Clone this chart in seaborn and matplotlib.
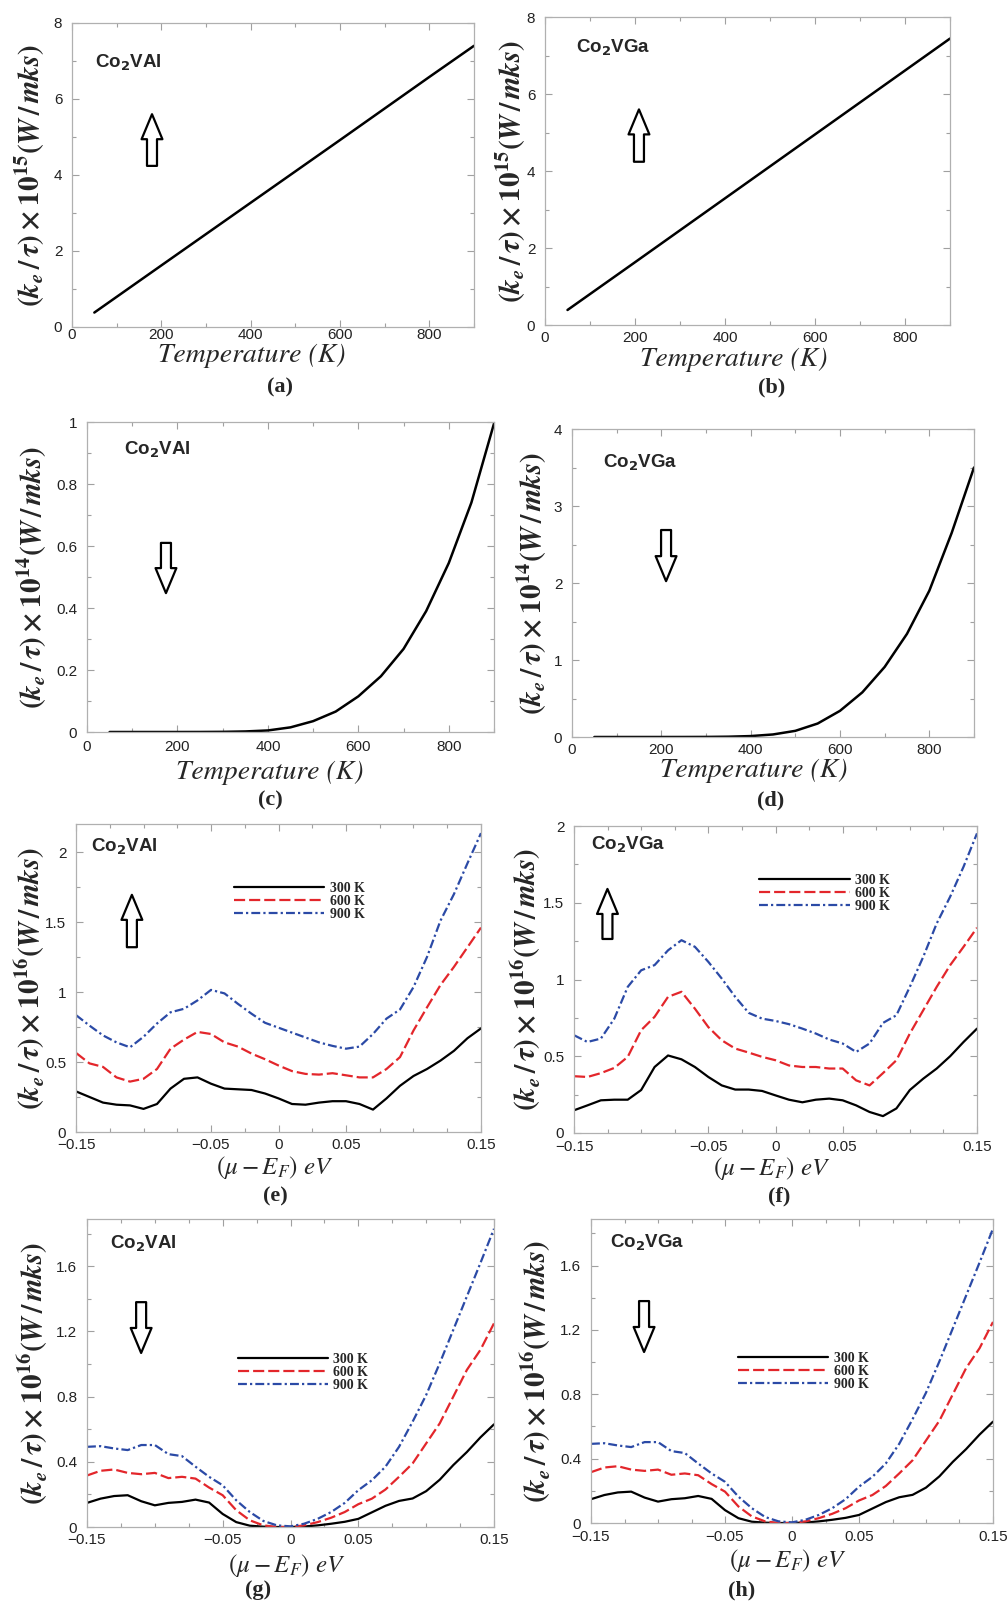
import numpy as np
import pandas as pd
import matplotlib
matplotlib.use('Agg')
import matplotlib.pyplot as plt
from matplotlib.ticker import FuncFormatter
import seaborn as sns

sns.set_theme(style='ticks')
plt.rcParams['font.family'] = ['Liberation Sans', 'DejaVu Sans']
plt.rcParams.update({
    'mathtext.fontset': 'custom',
    'mathtext.rm': 'STIXGeneral:bold',
    'mathtext.it': 'STIXGeneral:italic:bold',
    'mathtext.bf': 'STIXGeneral:bold',
})

W, H = 1008, 1601

# ---- data: temperature panels (a)-(d) ----
TEMP_LIN = [50, 200, 400, 600, 800, 900]
KE_A = [0.38, 1.62, 3.27, 4.92, 6.58, 7.40]
KE_B = [0.39, 1.63, 3.29, 4.95, 6.61, 7.44]

TEMP = [50, 100, 150, 200, 250, 300, 350, 400, 450, 500, 550, 600, 650, 700, 750, 800, 850, 900]
KE_C = [0, 0, 0, 0, 0.0001, 0.0005, 0.0018, 0.005, 0.015, 0.035, 0.066, 0.115,
        0.18, 0.268, 0.39, 0.545, 0.74, 0.995]
KE_D = [0, 0, 0, 0, 0.0002, 0.001, 0.004, 0.012, 0.033, 0.08, 0.175, 0.34,
        0.58, 0.91, 1.34, 1.9, 2.65, 3.5]

# ---- data: chemical potential panels (e)-(h) ----
MU = [-0.15, -0.14, -0.13, -0.12, -0.11, -0.10, -0.09, -0.08, -0.07, -0.06, -0.05,
      -0.04, -0.03, -0.02, -0.01, 0.0, 0.01, 0.02, 0.03, 0.04, 0.05,
      0.06, 0.07, 0.08, 0.09, 0.10, 0.11, 0.12, 0.13, 0.14, 0.15]
TEMP_LABELS = ['300 K', '600 K', '900 K']

E_300 = [0.29, 0.25, 0.21, 0.195, 0.19, 0.165, 0.20, 0.31, 0.38, 0.39, 0.345,
         0.31, 0.305, 0.30, 0.275, 0.24, 0.20, 0.195, 0.21, 0.22, 0.22,
         0.20, 0.16, 0.24, 0.33, 0.40, 0.45, 0.51, 0.58, 0.67, 0.74]
E_600 = [0.565, 0.49, 0.465, 0.39, 0.36, 0.38, 0.45, 0.595, 0.66, 0.715, 0.70,
         0.64, 0.61, 0.56, 0.52, 0.475, 0.435, 0.415, 0.41, 0.42, 0.405,
         0.39, 0.39, 0.45, 0.535, 0.725, 0.89, 1.05, 1.18, 1.32, 1.46]
E_900 = [0.835, 0.76, 0.69, 0.64, 0.605, 0.68, 0.775, 0.855, 0.88, 0.94, 1.015,
         0.99, 0.915, 0.845, 0.78, 0.745, 0.71, 0.675, 0.64, 0.615, 0.595,
         0.61, 0.70, 0.81, 0.875, 1.035, 1.25, 1.51, 1.70, 1.92, 2.135]

F_300 = [0.148, 0.18, 0.213, 0.217, 0.217, 0.28, 0.43, 0.505, 0.48, 0.43, 0.365,
         0.31, 0.283, 0.283, 0.274, 0.245, 0.217, 0.20, 0.217, 0.224, 0.213,
         0.18, 0.137, 0.11, 0.16, 0.28, 0.354, 0.42, 0.50, 0.593, 0.68]
F_600 = [0.37, 0.365, 0.39, 0.424, 0.496, 0.67, 0.757, 0.887, 0.92, 0.81, 0.69,
         0.604, 0.55, 0.524, 0.496, 0.474, 0.44, 0.43, 0.43, 0.42, 0.42,
         0.343, 0.31, 0.39, 0.474, 0.648, 0.80, 0.952, 1.093, 1.213, 1.337]
F_900 = [0.637, 0.593, 0.615, 0.745, 0.952, 1.06, 1.094, 1.19, 1.256, 1.213, 1.115,
         1.006, 0.887, 0.783, 0.745, 0.73, 0.709, 0.68, 0.648, 0.609, 0.583,
         0.528, 0.583, 0.717, 0.767, 0.952, 1.148, 1.365, 1.539, 1.735, 1.952]

# (g) and (h) show the same curves
G_300 = [0.148, 0.174, 0.19, 0.195, 0.158, 0.133, 0.148, 0.154, 0.168, 0.15, 0.08,
         0.03, 0.008, 0.002, 0.0, 0.0, 0.003, 0.01, 0.02, 0.032, 0.05,
         0.09, 0.13, 0.16, 0.175, 0.22, 0.29, 0.38, 0.46, 0.55, 0.63]
G_600 = [0.316, 0.345, 0.353, 0.332, 0.324, 0.332, 0.30, 0.308, 0.297, 0.242, 0.195,
         0.103, 0.041, 0.01, 0.0, 0.0, 0.01, 0.03, 0.057, 0.092, 0.14,
         0.174, 0.23, 0.308, 0.39, 0.513, 0.636, 0.80, 0.964, 1.087, 1.25]
G_900 = [0.492, 0.496, 0.482, 0.472, 0.503, 0.503, 0.447, 0.435, 0.37, 0.308, 0.256,
         0.164, 0.092, 0.037, 0.01, 0.004, 0.02, 0.05, 0.092, 0.148, 0.226,
         0.287, 0.37, 0.492, 0.646, 0.81, 1.005, 1.21, 1.415, 1.62, 1.83]

PALETTE = {'300 K': 'black', '600 K': '#e3262b', '900 K': '#2b4aa6'}
DASHES = {'300 K': '', '600 K': (5, 1.8), '900 K': (4, 1.4, 1.0, 1.4)}


def tick_fmt(v, pos):
    return f'{round(v, 4):g}'.replace('-', '\u2212')


def make_axes(fig, left, top, right, bottom):
    return fig.add_axes([left / W, 1 - bottom / H, (right - left) / W, (bottom - top) / H])


def style_axes(ax, xmaj, xmin, ymaj, ymin, xpad):
    ax.set_xticks(xmaj)
    ax.set_xticks(xmin, minor=True)
    ax.set_yticks(ymaj)
    ax.set_yticks(ymin, minor=True)
    ax.xaxis.set_major_formatter(FuncFormatter(tick_fmt))
    ax.yaxis.set_major_formatter(FuncFormatter(tick_fmt))
    ax.tick_params(which='both', direction='in', top=True, right=True,
                   color='#a0a0a0', width=0.8, labelsize=11, labelcolor='#222222')
    ax.tick_params(axis='x', pad=xpad)
    ax.tick_params(axis='y', pad=7)
    ax.tick_params(which='major', length=5)
    ax.tick_params(which='minor', length=3)
    for sp in ax.spines.values():
        sp.set_color('#b0b0b0')
        sp.set_linewidth(0.9)


def block_arrow(ax, x, y_tail, y_tip):
    ax.annotate('', xy=(x, y_tip), xytext=(x, y_tail),
                xycoords='axes fraction', textcoords='axes fraction',
                arrowprops=dict(arrowstyle='simple,head_length=1.8,head_width=1.5,tail_width=0.72',
                                mutation_scale=10, fc='white', ec='black', lw=1.6,
                                shrinkA=0, shrinkB=0))


def compound(ax, x, y, text):
    ax.text(x, y, text, transform=ax.transAxes, fontsize=13.5, fontweight='bold',
            va='center', ha='left', math_fontfamily='dejavusans')


def ylabel(ax, power, xpos):
    ax.set_ylabel(r'$(k_e\,/\,\tau)\times10^{%d}(W\,/\,mks)$' % power, fontsize=21, va='center')
    ax.yaxis.set_label_coords(xpos, 0.5)


fig = plt.figure(figsize=(W / 100, H / 100), dpi=100)

# ---------------- temperature panels ----------------
t_panels = [
    # box, values, ylim, ymaj, ymin, power, compound, arrow(x, tail, tip), ylabel x, xlabel (x, y), x tick pad
    ((72, 23, 474, 327), KE_A, 8, np.arange(0, 8.1, 2), np.arange(0, 8.1, 1), 15,
     (0.057, 0.87, r'Co$_\mathbf{2}$VAl'), (0.199, 0.53, 0.70), -0.104, (0.448, -0.055), 0.5),
    ((545, 17, 950, 325), KE_B, 8, np.arange(0, 8.1, 2), np.arange(0, 8.1, 1), 15,
     (0.077, 0.90, r'Co$_\mathbf{2}$VGa'), (0.232, 0.53, 0.70), -0.084, (0.467, -0.071), 4.5),
    ((87, 422, 494, 732), KE_C, 1, np.arange(0, 1.01, 0.2), np.arange(0, 1.01, 0.1), 14,
     (0.091, 0.91, r'Co$_\mathbf{2}$VAl'), (0.194, 0.61, 0.448), -0.135, (0.45, -0.09), 5.5),
    ((572, 429, 974, 737), KE_D, 4, np.arange(0, 4.1, 1), np.arange(0, 4.1, 0.5), 14,
     (0.077, 0.89, r'Co$_\mathbf{2}$VGa'), (0.234, 0.672, 0.506), -0.10, (0.453, -0.068), 4.5),
]
TEMP_X = [TEMP_LIN, TEMP_LIN, TEMP, TEMP]

for (box, vals, ytop, ymaj, ymin, power, comp, arr, ylx, xl, xpad), tx in zip(t_panels, TEMP_X):
    ax = make_axes(fig, *box)
    sns.lineplot(x=tx, y=vals, color='black', lw=1.8, ax=ax)
    ax.set_xlim(0, 900)
    ax.set_ylim(0, ytop)
    style_axes(ax, [0, 200, 400, 600, 800], np.arange(0, 901, 100), ymaj, ymin, xpad)
    ylabel(ax, power, ylx)
    ax.set_xlabel('Temperature (K)', fontsize=20, fontfamily='STIXGeneral', fontstyle='italic')
    ax.xaxis.set_label_coords(*xl)
    compound(ax, comp[0], comp[1], comp[2])
    block_arrow(ax, *arr)

# ---------------- chemical potential panels ----------------
mu_panels = [
    ((76, 824, 481, 1132), (E_300, E_600, E_900), 2.2, np.arange(0, 2.01, 0.5), np.arange(0, 2.21, 0.25),
     (0.037, 0.925, r'Co$_\mathbf{2}$VAl'), (0.138, 0.60, 0.77), -0.114, (0.49, -0.072), (0.39, 0.75), 4),
    ((574, 826, 977, 1133), (F_300, F_600, F_900), 2.0, np.arange(0, 2.01, 0.5), np.arange(0, 2.01, 0.25),
     (0.042, 0.94, r'Co$_\mathbf{2}$VGa'), (0.083, 0.632, 0.795), -0.119, (0.49, -0.072), (0.46, 0.78), 5),
    ((87, 1219, 494, 1527), (G_300, G_600, G_900), 1.89, np.arange(0, 1.61, 0.4), np.arange(0, 1.81, 0.2),
     (0.057, 0.92, r'Co$_\mathbf{2}$VAl'), (0.133, 0.73, 0.565), -0.133, (0.49, -0.080), (0.37, 0.503), 4.5),
    ((591, 1219, 993, 1523), (G_300, G_600, G_900), 1.89, np.arange(0, 1.61, 0.4), np.arange(0, 1.81, 0.2),
     (0.047, 0.92, r'Co$_\mathbf{2}$VGa'), (0.132, 0.73, 0.5625), -0.137, (0.49, -0.078), (0.366, 0.50), 5),
]

for box, series, ytop, ymaj, ymin, comp, arr, ylx, xl, leg, xpad in mu_panels:
    ax = make_axes(fig, *box)
    df = pd.DataFrame({
        'mu': np.tile(MU, 3),
        'ke': np.concatenate(series),
        'T': np.repeat(TEMP_LABELS, len(MU)),
    })
    sns.lineplot(data=df, x='mu', y='ke', hue='T', style='T', hue_order=TEMP_LABELS,
                 style_order=TEMP_LABELS, palette=PALETTE, dashes=DASHES,
                 lw=1.6, errorbar=None, legend=False, ax=ax)
    ax.set_xlim(-0.15, 0.15)
    ax.set_ylim(0, ytop)
    style_axes(ax, [-0.15, -0.05, 0, 0.05, 0.15], np.arange(-0.15, 0.151, 0.025), ymaj, ymin, xpad)
    ylabel(ax, 16, ylx)
    ax.set_xlabel(r'$(\mu-E_F)\ eV$', fontsize=18, math_fontfamily='stix')
    ax.xaxis.set_label_coords(*xl)
    ax.legend(ax.lines[:3], TEMP_LABELS, loc='center left', bbox_to_anchor=leg,
              frameon=False, borderpad=0, borderaxespad=0, handlelength=6.5,
              handletextpad=0.4, labelspacing=0.0,
              prop={'family': 'Liberation Serif', 'weight': 'bold', 'size': 10})
    compound(ax, comp[0], comp[1], comp[2])
    block_arrow(ax, *arr)

# panel letters
letters = [('(a)', 280, 387), ('(b)', 772, 387), ('(c)', 270, 800), ('(d)', 771, 800),
           ('(e)', 275, 1196), ('(f)', 779, 1196), ('(g)', 258, 1590), ('(h)', 742, 1590)]
for txt, px, py in letters:
    fig.text(px / W, 1 - py / H, txt, ha='center', va='center', fontsize=16,
             fontweight='bold', fontfamily='Liberation Serif')

fig.savefig('out.png', dpi=100)
